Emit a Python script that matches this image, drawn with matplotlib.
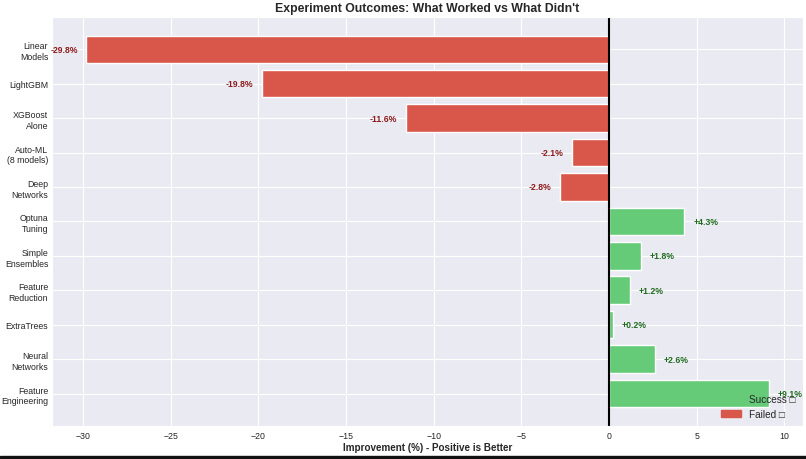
""" Experiment outcomes bar chart """
import numpy as np
import seaborn as sns
from matplotlib import pyplot as plt
from matplotlib.patches import Patch

experiments = ['Linear\nModels', 'LightGBM', 'XGBoost\nAlone', 'Auto-ML\n(8 models)',
               'Deep\nNetworks', 'Optuna\nTuning', 'Simple\nEnsembles', 'Feature\nReduction',
               'ExtraTrees', 'Neural\nNetworks', 'Feature\nEngineering']
improvement = [-29.8, -19.8, -11.6, -2.1, -2.8, 4.3, 1.8, 1.2, 0.2, 2.6, 9.1]

sns.set_style('darkgrid')
plt.rcParams['font.family'] = ['Liberation Sans', 'DejaVu Sans']

red = '#d9574a'
green = '#66cb78'

fig = plt.figure(figsize=(8.06, 4.6), dpi=100)
ax = plt.gca()

ypos = np.arange(len(experiments))
clrs = [green if v > 0 else red for v in improvement]
ax.barh(ypos, improvement, color=clrs, height=0.8)
ax.set_yticks(ypos)
ax.set_yticklabels(experiments, fontsize=6.3, linespacing=1.25)
ax.invert_yaxis()
ax.tick_params(axis='x', labelsize=6.3, pad=4, length=0)
ax.tick_params(axis='y', pad=3, length=0)

# Value labels
for yy, val in zip(ypos, improvement):
    if val > 0:
        ax.text(val + 0.5, yy, f'+{val:.1f}%', va='center', ha='left',
                fontsize=6.2, fontweight='bold', color='#1e6b1e')
    else:
        ax.text(val - 0.5, yy, f'{val:.1f}%', va='center', ha='right',
                fontsize=6.2, fontweight='bold', color='#8b1a1a')

ax.axvline(0, color='black', lw=1.5)

ax.set_xlabel('Improvement (%) - Positive is Better', fontsize=7.1,
              fontweight='bold', labelpad=1)
ax.set_title("Experiment Outcomes: What Worked vs What Didn't", fontsize=8.8,
             fontweight='bold', pad=4)

handles = [Patch(color=green, label='Success \u25a1'),
           Patch(color=red, label='Failed \u25a1')]
ax.legend(handles=handles, loc='lower right', frameon=False, fontsize=7.2,
          borderaxespad=0.3, handlelength=2.0)

fig.subplots_adjust(left=0.065, right=0.996, top=0.961, bottom=0.072)

# dark strip along the bottom edge
fig.add_artist(plt.Rectangle((0, 0), 1, 0.006, transform=fig.transFigure,
                             color='#111111'))

plt.savefig('out.png', dpi=100)
print('Saved out.png')
